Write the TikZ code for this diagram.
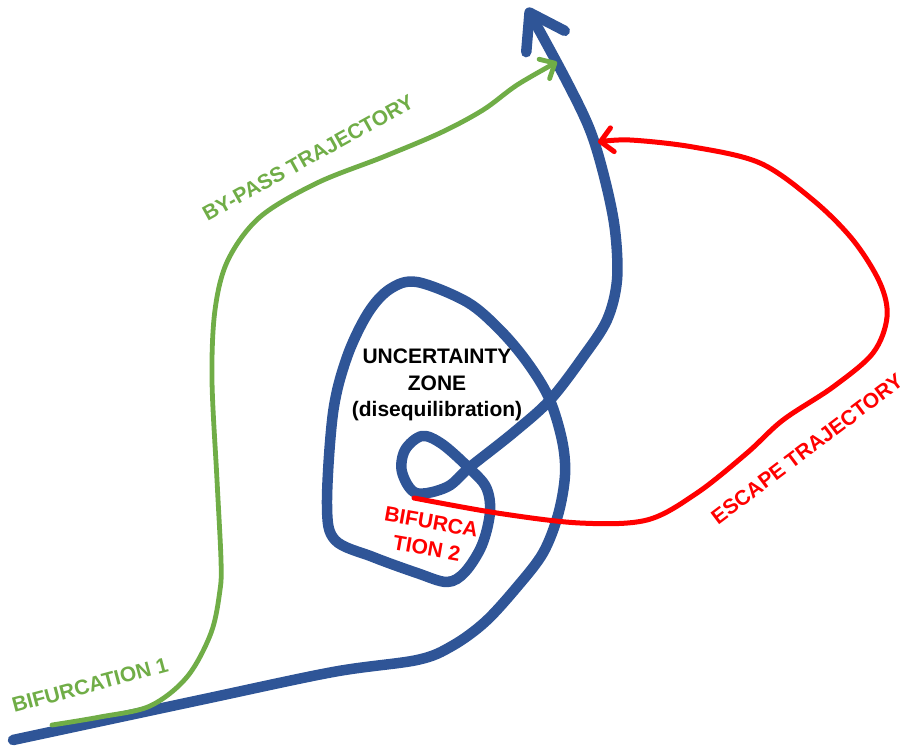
\documentclass[tikz,border=0pt]{standalone}
\usepackage{fontspec}
\setmainfont{Liberation Sans}
\usetikzlibrary{arrows.meta}
\definecolor{trajblue}{RGB}{47,85,151}
\definecolor{trajgreen}{RGB}{112,173,71}
\definecolor{trajred}{RGB}{255,0,0}
\begin{document}
\begin{tikzpicture}[x=1pt,y=-1pt,
  lbl/.style={font=\bfseries\fontsize{21}{26.5}\selectfont, inner sep=0pt, align=center},
  mainpath/.style={trajblue, line width=10.5pt, line cap=round, line join=round},
  bypass/.style={trajgreen, line width=4.8pt, line cap=round, line join=round},
  escape/.style={trajred, line width=5pt, line cap=round, line join=round}]
\useasboundingbox (0,0) rectangle (908,750);

% main trajectory
\draw[mainpath, -{Straight Barb[length=33pt,width=44pt,round]}]
  plot[smooth, tension=0.55] coordinates {
  (13,740) (200,700) (333,672) (417,660) (452,646) (485,622) (517,587)
  (543,553) (558,515) (565,475) (562,440) (549,398) (527,362) (500,330)
  (467,302) (417,282) (390,289) (368,313) (347,357) (333,413) (327,505)
  (335,540) (373,557) (417,573) (447,582) (465,572) (482,545) (490,512)
  (486,487) (468,467) (442,444) (422,436) (405,450) (402,472) (416,493)
  (447,487) (470,467) (513,433) (550,400) (583,357) (607,320) (617,280)
  (615,230) (605,180) (590,130) (565,78) (527,8)};

% by-pass trajectory
\draw[bypass, -{Straight Barb[length=12pt,width=22pt,round]}]
  plot[smooth, tension=0.55] coordinates {
  (52,725) (100,717) (150,706) (187,677) (211,633) (220,590) (221,560)
  (217,480) (212,380) (215,310) (228,260) (260,217) (317,183) (383,157)
  (440,133) (483,110) (517,85) (557,62)};

% escape trajectory
\draw[escape, -{Straight Barb[length=12pt,width=24pt,round]}]
  plot[smooth, tension=0.55] coordinates {
  (414,498) (497,513) (580,523) (647,520) (697,493) (747,453) (783,420)
  (833,387) (873,353) (887,317) (880,283) (853,240) (813,200) (760,163)
  (693,147) (630,140) (598,142)};

% labels
\node[lbl] (zone) at (437,385) {UNCERTAINTY\\ZONE\\(disequilibration)};
\node[lbl, text=trajred, rotate=-10] (bif2) at (429,535) {BIFURCA\\TION 2};
\node[lbl, text=trajgreen, rotate=29] (bypasslbl) at (308,158) {BY-PASS TRAJECTORY};
\node[lbl, text=trajgreen, rotate=15] (bif1) at (90,685) {BIFURCATION 1};
\node[lbl, text=trajred, rotate=37] (escapelbl) at (807,449) {ESCAPE TRAJECTORY};
\end{tikzpicture}
\end{document}
